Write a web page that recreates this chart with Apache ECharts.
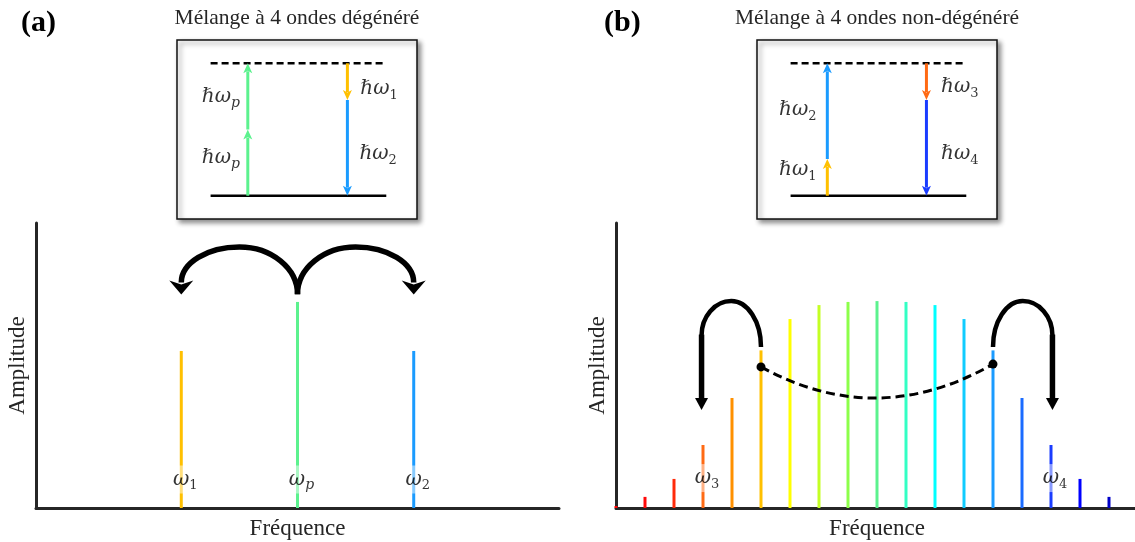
<!DOCTYPE html>
<html><head><meta charset="utf-8">
<script src="https://cdn.jsdelivr.net/npm/echarts@6/dist/echarts.min.js"></script>
<style>html,body{margin:0;padding:0;background:#fff}#c{width:1135px;height:542px}</style>
</head><body><div id="c"></div>
<script>
// ---------- Panel (a): degenerate four-wave mixing ----------
const degenFreq = [1.25, 2.25, 3.25];
const degenAmp = [55.1, 72.3, 55.1];
const degenColors = ['#FFC000', '#5CF28E', '#1A9BFF'];
const degenSub = ['1', 'p', '2'];
// curved arrows: [fromFreq, fromAmp, toFreq, toAmp(head base), peakAmp]
const degenArcs = [[2.25, 75, 1.25, 79.5, 91.6], [2.25, 75, 3.25, 79.5, 91.6]];

// ---------- Panel (b): non-degenerate four-wave mixing ----------
const nondegFreq = [0, 1, 2, 3, 4, 5, 6, 7, 8, 9, 10, 11, 12, 13, 14, 15, 16, 17];
const nondegAmp = [0.7, 3.9, 10.2, 22.1, 38.6, 55.3, 66.3, 71.2, 72.3, 72.6, 72.3, 71.2, 66.3, 55.3, 38.6, 22.1, 10.2, 3.9];
const nondegColors = ['#FF0000', '#FF0A0A', '#FF2A0A', '#FF6A14', '#FF9000', '#FFC000', '#FFFF00', '#C4FF24',
  '#8CFF4A', '#5CF28E', '#33FFC4', '#00FFFF', '#10CCFF', '#1A9BFF', '#1A6BFF', '#1A3CFF', '#0000FF', '#0000C8'];
const nondegLabelFreq = [3, 15];
const nondegSub = ['3', '4'];
// hooks: [fromFreq, fromAmp, toFreq, turnAmp, peakAmp, tipAmp]
const nondegHooks = [[5, 56.5, 2.95, 60.5, 72.6, 34.4], [13, 56.5, 15.05, 60.5, 72.6, 34.4]];
// dashed link: [x0, y0, ctrlX, ctrlY, x1, y1]
const nondegLink = [[5, 49.5, 9, 27.2, 13, 50.5]];

// ---------- Energy-level insets ----------
// levels: [xStart, xEnd, energy, dashed]
const levels = [[0.14, 0.872, 0, 0], [0.14, 0.872, 1, 1]];
// arrows: [x, fromEnergy, toEnergy]
const degenArrows = [[0.295, 0, 0.5], [0.295, 0.5, 1], [0.71, 1, 0.723], [0.71, 0.723, 0]];
const degenArrowColors = ['#5CF28E', '#5CF28E', '#FFC000', '#1A9BFF'];
const degenArrowLabels = [[0.183, 0.745, 'p'], [0.183, 0.285, 'p'], [0.842, 0.806, '1'], [0.838, 0.315, '2']];
const nondegArrows = [[0.293, 0, 0.277], [0.293, 0.277, 1], [0.706, 1, 0.723], [0.706, 0.723, 0]];
const nondegArrowColors = ['#FFC000', '#1A9BFF', '#FF6A14', '#1A3CFF'];
const nondegArrowLabels = [[0.17, 0.647, '2'], [0.17, 0.194, '1'], [0.845, 0.821, '3'], [0.845, 0.315, '4']];

const titles = ['(a)', '(b)'];
const subtitles = ['Mélange à 4 ondes dégénéré', 'Mélange à 4 ondes non-dégénéré'];

const SERIF = "'Liberation Serif', 'DejaVu Serif', serif";
const MATH = "'DejaVu Serif', serif";
const INK = '#262626';

const chart = echarts.init(document.getElementById('c'), null, {renderer: 'canvas'});

function subStyle(s) {
  return /[0-9]/.test(s) ? 'd' : 'i';
}
const richW = {
  w: {fontFamily: MATH, fontStyle: 'italic', fontSize: 20, lineHeight: 26, color: '#000'},
  h: {fontFamily: MATH, fontStyle: 'italic', fontSize: 20, lineHeight: 26, color: '#000'},
  d: {fontFamily: MATH, fontSize: 13, lineHeight: 14, verticalAlign: 'bottom', color: '#000'},
  i: {fontFamily: MATH, fontStyle: 'italic', fontSize: 14, lineHeight: 14, verticalAlign: 'bottom', color: '#000'}
};

function specX(gi, max) {
  return {gridIndex: gi, type: 'value', min: 0, max: max,
    axisLine: {show: true, onZero: false, lineStyle: {color: INK, width: 3}},
    axisTick: {show: false}, axisLabel: {show: false}, splitLine: {show: false},
    name: 'Fréquence', nameLocation: 'middle', nameGap: 9,
    nameTextStyle: {fontFamily: SERIF, fontSize: 23, color: INK}};
}
function specY(gi) {
  return {gridIndex: gi, type: 'value', min: 0, max: 100,
    axisLine: {show: true, onZero: false, lineStyle: {color: INK, width: 3}},
    axisTick: {show: false}, axisLabel: {show: false}, splitLine: {show: false},
    name: 'Amplitude', nameLocation: 'middle', nameGap: 7,
    nameTextStyle: {fontFamily: SERIF, fontSize: 23, color: INK}};
}
function insetX(gi) { return {gridIndex: gi, type: 'value', min: 0, max: 1, show: false}; }
function insetY(gi) { return {gridIndex: gi, type: 'value', min: -0.176, max: 1.176, show: false}; }

const K = 0.552;
// half-ellipse style path from p0 over peak to p1
function ellPath(p0, p1, peakY) {
  const mx = (p0[0] + p1[0]) / 2;
  const a0 = p0[0] - mx, a1 = p1[0] - mx;
  const h0 = p0[1] - peakY, h1 = p1[1] - peakY;
  return 'M' + p0[0] + ' ' + p0[1] +
    ' C' + p0[0] + ' ' + (p0[1] - K * h0) + ' ' + (mx + K * a0) + ' ' + peakY + ' ' + mx + ' ' + peakY +
    ' C' + (mx + K * a1) + ' ' + peakY + ' ' + p1[0] + ' ' + (p1[1] - K * h1) + ' ' + p1[0] + ' ' + p1[1];
}
function renderArc(params, api) {
  const p0 = api.coord([api.value(0), api.value(1)]);
  const p1 = api.coord([api.value(2), api.value(3)]);
  const pk = api.coord([api.value(0), api.value(4)]);
  const hw = 12, hl = 13;
  return {type: 'group', children: [
    {type: 'path', shape: {pathData: ellPath(p0, [p1[0], p1[1] + 1], pk[1])},
      style: {stroke: '#000', lineWidth: 5.5, fill: 'none'}},
    {type: 'polygon', shape: {points: [[p1[0] - hw, p1[1] - 1], [p1[0], p1[1] + 3], [p1[0] + hw, p1[1] - 1], [p1[0], p1[1] + hl]]},
      style: {fill: '#000'}}
  ]};
}
function renderHook(params, api) {
  const p0 = api.coord([api.value(0), api.value(1)]);
  const p1 = api.coord([api.value(2), api.value(3)]);
  const pk = api.coord([api.value(0), api.value(4)]);
  const tip = api.coord([api.value(2), api.value(5)]);
  const hw = 6.5, hl = 12;
  return {type: 'group', children: [
    {type: 'path', shape: {pathData: ellPath(p0, p1, pk[1])},
      style: {stroke: '#000', lineWidth: 4.5, fill: 'none'}},
    {type: 'line', shape: {x1: p1[0], y1: p1[1] - 1, x2: tip[0], y2: tip[1] - hl + 1}, style: {stroke: '#000', lineWidth: 5.5}},
    {type: 'polygon', shape: {points: [[tip[0] - hw, tip[1] - hl], [tip[0] + hw, tip[1] - hl], [tip[0], tip[1]]]}, style: {fill: '#000'}}
  ]};
}
function renderLink(params, api) {
  const a = api.coord([api.value(0), api.value(1)]);
  const c = api.coord([api.value(2), api.value(3)]);
  const b = api.coord([api.value(4), api.value(5)]);
  return {type: 'group', children: [
    {type: 'bezierCurve', shape: {x1: a[0], y1: a[1], x2: b[0], y2: b[1], cpx1: c[0], cpy1: c[1]},
      style: {stroke: '#000', lineWidth: 3, lineDash: [9, 5], fill: 'none'}},
    {type: 'circle', shape: {cx: a[0], cy: a[1], r: 4.5}, style: {fill: '#000'}},
    {type: 'circle', shape: {cx: b[0], cy: b[1], r: 4.5}, style: {fill: '#000'}}
  ]};
}
function renderLevel(params, api) {
  const a = api.coord([api.value(0), api.value(2)]);
  const b = api.coord([api.value(1), api.value(2)]);
  return {type: 'line', shape: {x1: a[0], y1: a[1], x2: b[0], y2: b[1]},
    style: {stroke: '#000', lineWidth: 2.5, lineDash: api.value(3) ? [7, 4] : null}};
}
function arrowRenderer(colors) {
  return function (params, api) {
    const p0 = api.coord([api.value(0), api.value(1)]);
    const p1 = api.coord([api.value(0), api.value(2)]);
    const dir = p1[1] > p0[1] ? 1 : -1;
    const hl = 10, hw = 4.5;
    const c = colors[params.dataIndex];
    const by = p1[1] - dir * hl;
    return {type: 'group', children: [
      {type: 'line', shape: {x1: p0[0], y1: p0[1], x2: p0[0], y2: by + dir * 2}, style: {stroke: c, lineWidth: 3}},
      {type: 'polygon', shape: {points: [[p1[0] - hw, by], [p1[0], by + dir * 2.5], [p1[0] + hw, by], [p1[0], p1[1]]]}, style: {fill: c}}
    ]};
  };
}
function omegaLabels(gi, xs, subs, y) {
  return {type: 'scatter', xAxisIndex: gi, yAxisIndex: gi, z: 5, symbolSize: 1,
    itemStyle: {color: 'rgba(0,0,0,0)'},
    data: xs.map(x => [x, y]),
    label: {show: true, position: 'inside', offset: [4, 0],
      backgroundColor: 'rgba(255,255,255,0.6)', padding: [1, 1],
      formatter: p => '{w|ω}{' + subStyle(subs[p.dataIndex]) + '|' + subs[p.dataIndex] + '}',
      rich: richW}};
}
function hbarLabels(gi, arr) {
  return {type: 'scatter', xAxisIndex: gi, yAxisIndex: gi, z: 5, symbolSize: 1,
    itemStyle: {color: 'rgba(0,0,0,0)'},
    data: arr.map(a => [a[0], a[1]]),
    label: {show: true, position: 'inside',
      formatter: p => '{h|ℏ}{w|ω}{' + subStyle(arr[p.dataIndex][2]) + '|' + arr[p.dataIndex][2] + '}',
      rich: richW}};
}

const option = {
  backgroundColor: '#fff',
  animation: false,
  graphic: [
    {type: 'text', x: 21, y: 23, style: {text: titles[0], font: "bold 30px 'Liberation Serif'", fill: '#000', verticalAlign: 'middle'}},
    {type: 'text', x: 604, y: 23, style: {text: titles[1], font: "bold 30px 'Liberation Serif'", fill: '#000', verticalAlign: 'middle'}},
    {type: 'text', x: 297, y: 18, style: {text: subtitles[0], font: "21.5px 'Liberation Serif'", fill: INK, align: 'center', verticalAlign: 'middle'}},
    {type: 'text', x: 877, y: 18, style: {text: subtitles[1], font: "21.5px 'Liberation Serif'", fill: INK, align: 'center', verticalAlign: 'middle'}}
  ],
  grid: [
    {left: 36, top: 223, width: 523, height: 285, outerBoundsMode: 'none', containLabel: false},
    {left: 616, top: 223, width: 522, height: 285, outerBoundsMode: 'none', containLabel: false},
    {left: 177, top: 40, width: 240, height: 179, outerBoundsMode: 'none', show: true, backgroundColor: '#fff', borderColor: '#111', borderWidth: 1.5,
      shadowColor: 'rgba(0,0,0,0.45)', shadowBlur: 5, shadowOffsetX: 3, shadowOffsetY: 3},
    {left: 757, top: 40, width: 240, height: 179, outerBoundsMode: 'none', show: true, backgroundColor: '#fff', borderColor: '#111', borderWidth: 1.5,
      shadowColor: 'rgba(0,0,0,0.45)', shadowBlur: 5, shadowOffsetX: 3, shadowOffsetY: 3}
  ],
  xAxis: [specX(0, 4.5), specX(1, 18), insetX(2), insetX(3)],
  yAxis: [specY(0), specY(1), insetY(2), insetY(3)],
  series: [
    {type: 'bar', xAxisIndex: 0, yAxisIndex: 0, barWidth: 3, z: 3,
      data: degenFreq.map((f, i) => ({value: [f, degenAmp[i]], itemStyle: {color: degenColors[i]}}))},
    {type: 'bar', xAxisIndex: 1, yAxisIndex: 1, barWidth: 3, z: 3,
      data: nondegFreq.map((f, i) => ({value: [f, nondegAmp[i]], itemStyle: {color: nondegColors[i]}}))},
    omegaLabels(0, degenFreq, degenSub, 10),
    omegaLabels(1, nondegLabelFreq, nondegSub, 10.5),
    {type: 'custom', xAxisIndex: 0, yAxisIndex: 0, z: 6, renderItem: renderArc, data: degenArcs},
    {type: 'custom', xAxisIndex: 1, yAxisIndex: 1, z: 6, renderItem: renderHook, data: nondegHooks},
    {type: 'custom', xAxisIndex: 1, yAxisIndex: 1, z: 6, renderItem: renderLink, data: nondegLink},
    {type: 'custom', xAxisIndex: 2, yAxisIndex: 2, z: 6, renderItem: renderLevel, data: levels},
    {type: 'custom', xAxisIndex: 3, yAxisIndex: 3, z: 6, renderItem: renderLevel, data: levels},
    {type: 'custom', xAxisIndex: 2, yAxisIndex: 2, z: 7, renderItem: arrowRenderer(degenArrowColors), data: degenArrows},
    {type: 'custom', xAxisIndex: 3, yAxisIndex: 3, z: 7, renderItem: arrowRenderer(nondegArrowColors), data: nondegArrows},
    hbarLabels(2, degenArrowLabels),
    hbarLabels(3, nondegArrowLabels)
  ]
};
chart.setOption(option);
</script>
</body></html>
